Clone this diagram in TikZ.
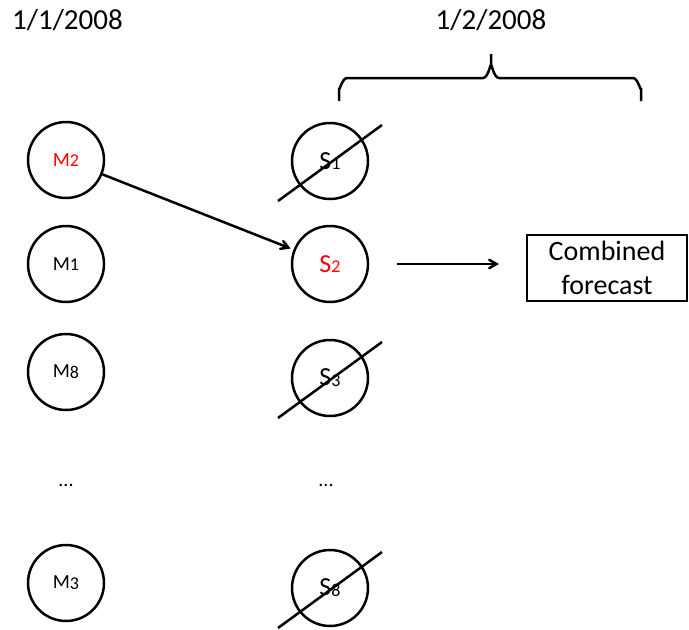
\documentclass[tikz,border=0pt]{standalone}
\usepackage{fontspec}
\setmainfont{Carlito}
\usetikzlibrary{calc,arrows}

\newcommand{\subnum}[1]{\raisebox{-0.8pt}{\fontsize{18}{18}\selectfont #1}}

\begin{document}
\begin{tikzpicture}[x=1pt, y=-1pt, >=angle 60,
    model/.style={circle, draw, line width=2.5pt, minimum size=76pt, inner sep=0pt, font=\fontsize{20}{20}\selectfont},
    season/.style={model, font=\fontsize{26}{26}\selectfont},
    date/.style={font=\fontsize{29}{29}\selectfont, inner sep=0pt},
    link/.style={->, line width=2.5pt},
    strike/.style={line width=2.5pt}]
    \useasboundingbox (0,0) rectangle (689,630);
    % dates
    \node[date, anchor=west] (d1) at (12,20) {1/1/2008};
    \node[date] (d2) at (491,20) {1/2/2008};
    % brace under the second date
    \draw[line width=2.5pt] (339,101) -- (339,88) to[out=-90,in=180] (347,78) -- (483,78)
        to[out=0,in=90] (491,66) -- (491,54) -- (491,66) to[out=90,in=180] (499,78) -- (633,78)
        to[out=0,in=-90] (641,88) -- (641,101);
    % models
    \node[model] (m2) at (66,160) {\textcolor{red}{M\subnum{2}}};
    \node[model] (m1) at (66,264) {M\subnum{1}};
    \node[model] (m8) at (66,372) {M\subnum{8}};
    \node[font=\fontsize{20}{20}\selectfont] (mdots) at (66,485) {...};
    \node[model] (m3) at (66,583) {M\subnum{3}};
    % selected models
    \node[season] (s1) at (330,161) {S\subnum{1}};
    \node[season] (s2) at (330,264) {\textcolor{red}{S\subnum{2}}};
    \node[season] (s3) at (330,378) {S\subnum{3}};
    \node[font=\fontsize{20}{20}\selectfont] (sdots) at (326,485) {...};
    \node[season] (s8) at (330,588) {S\subnum{8}};
    \foreach \s in {s1,s3,s8}
        \draw[strike] ($(\s)+(-52,40)$) -- ($(\s)+(52,-36)$);
    % output
    \node[draw, line width=2pt, minimum width=160pt, minimum height=66pt, align=center,
        font=\fontsize{28}{34}\selectfont] (comb) at (607,268) {Combined\\forecast};
    \draw[link, shorten >=3pt] (m2) -- (s2);
    \draw[link, shorten <=28pt, shorten >=27pt] (s2.east) -- (s2.east -| comb.west);
\end{tikzpicture}
\end{document}
